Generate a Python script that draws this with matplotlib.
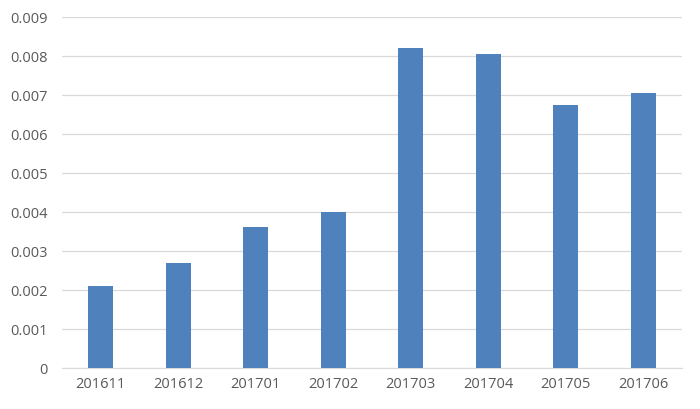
import matplotlib.pyplot as plt
import numpy as np

months = ['201611', '201612', '201701', '201702', '201703', '201704', '201705', '201706']
values = [0.00212, 0.00269, 0.00363, 0.00401, 0.00821, 0.00807, 0.00675, 0.00707]

plt.rcParams['font.family'] = ['Open Sans', 'DejaVu Sans']

fig = plt.figure(figsize=(7, 4.09), dpi=100)
ax = fig.add_axes([62 / 700, 40.7 / 409, 620 / 700, 351 / 409])

x = np.arange(len(months))
ax.bar(x, values, width=0.32, color='#4F81BD', zorder=3)

ax.set_xlim(-0.5, len(months) - 0.5)
ax.set_ylim(0, 0.009)
ax.set_yticks(np.arange(0, 0.0091, 0.001))
ax.set_yticklabels(['0'] + ['%.3f' % v for v in np.arange(0.001, 0.0091, 0.001)])
ax.set_xticks(x)
ax.set_xticklabels(months)

ax.grid(axis='y', color='#D9D9D9', linewidth=0.9, zorder=0)
for s in ['top', 'right', 'left']:
    ax.spines[s].set_visible(False)
ax.spines['bottom'].set_color('#D9D9D9')
ax.tick_params(axis='both', length=0, labelsize=10.5, colors='#595959')
ax.tick_params(axis='y', pad=10)
ax.tick_params(axis='x', pad=6)

fig.savefig('out.png', dpi=100)
